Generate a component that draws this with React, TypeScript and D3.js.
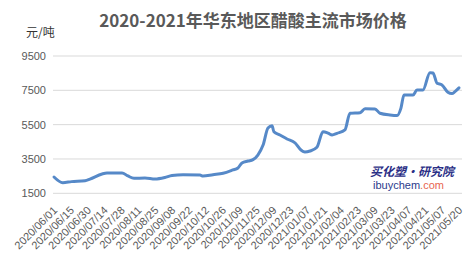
import React from "react";
import * as d3 from "d3";

const titleText = "2020-2021年华东地区醋酸主流市场价格";
const unitLabel = "元/吨";
const tickLabels = [
  "2020/06/01", "2020/06/15", "2020/06/30", "2020/07/14", "2020/07/28", "2020/08/11",
  "2020/08/25", "2020/09/08", "2020/09/22", "2020/10/12", "2020/10/26", "2020/11/09",
  "2020/11/25", "2020/12/09", "2020/12/23", "2021/01/07", "2021/01/21", "2021/02/04",
  "2021/02/23", "2021/03/09", "2021/03/23", "2021/04/07", "2021/04/21", "2021/05/07",
  "2021/05/20",
];
const yTicks = [1500, 3500, 5500, 7500, 9500];
// trading-day index (labels every 10 trading days) and price
const dayIndex = [
  0, 5.2, 10.4, 18.4, 21.3, 28.5, 31.4, 40.3, 43.8, 47.4, 53.9, 59.9, 65.7, 69.9, 76.5,
  86.5, 88.3, 94.2, 100.2, 106, 109, 111.4, 115, 117.9, 120.8, 123.9, 126.8, 129.2, 130.3,
  133.9, 138.1, 142.9, 145.8, 148.7, 151.7, 155.8, 159.4, 162.4, 164.8, 167.7, 172.4,
  175.4, 181.4, 184.3, 190.2, 193.2, 199.1, 203.3, 205.6, 207.4, 212.8, 215.1, 218.6,
  222.8, 224.6, 227, 229.9, 233.4, 235.8, 237.6, 240,
];
const prices = [
  2450, 2120, 2180, 2235, 2330, 2625, 2680, 2690, 2510, 2375, 2390, 2330, 2420, 2540, 2580,
  2560, 2510, 2585, 2665, 2860, 2975, 3270, 3380, 3460, 3730, 4310, 5310, 5440, 5090, 4900,
  4665, 4430, 4080, 3910, 3965, 4180, 5090, 5010, 4900, 4995, 5190, 6165, 6200, 6430, 6415,
  6165, 6065, 6035, 6465, 7230, 7230, 7520, 7520, 8530, 8510, 7910, 7815, 7390, 7310, 7425,
  7640,
];

export default function App() {
  const W = 472, H = 264;
  const x = d3.scaleLinear().domain([0, 240]).range([54, 459]);
  const y = d3.scaleLinear().domain([1500, 9500]).range([193.3, 56]);
  const pts = dayIndex.map((d, i) => [d, prices[i]] as [number, number]);
  const line = d3.line<[number, number]>()
    .x(d => x(d[0]))
    .y(d => y(d[1]))
    .curve(d3.curveMonotoneX);
  const sans = "'Liberation Sans', Arial, sans-serif";
  return (
    <svg width={W} height={H} style={{ position: "absolute", left: 0, top: 0 }}>
      <rect width={W} height={H} fill="#fff" />
      <text x={253} y={27} textAnchor="middle" fontSize={17} fontWeight="bold"
        fill="#595959" fontFamily="'Noto Sans CJK SC', sans-serif">{titleText}</text>
      <text x={26} y={37} fontSize={12} fill="#333" fontFamily="'Noto Sans CJK SC', sans-serif">{unitLabel}</text>
      {yTicks.map(t => (
        <g key={t}>
          <line x1={53} x2={462} y1={y(t)} y2={y(t)} stroke="#d9d9d9" strokeWidth={1} />
          <text x={46} y={y(t)} dy="0.35em" textAnchor="end" fontSize={11}
            fill="#595959" fontFamily={sans}>{t}</text>
        </g>
      ))}
      {tickLabels.map((lab, i) => {
        const tx = x(i * 10) + 4;
        const ty = 211;
        return (
          <text key={lab} transform={`translate(${tx},${ty}) rotate(-45)`} textAnchor="end"
            fontSize={11} fill="#595959" fontFamily={sans}>{lab}</text>
        );
      })}
      <path d={line(pts) || ""} fill="none" stroke="#5689c8" strokeWidth={3}
        strokeLinejoin="round" strokeLinecap="round" />
      <text x={370} y={176} fontSize={12} fontWeight="bold" fontStyle="italic"
        fill="#2b2f86" fontFamily="'Noto Sans CJK SC', sans-serif">买化塑·研究院</text>
      <text x={373} y={189} fontSize={11} fontFamily={sans}>
        <tspan fill="#2b3a8c">ibuychem</tspan>
        <tspan fill="#e8664f">.com</tspan>
      </text>
    </svg>
  );
}
